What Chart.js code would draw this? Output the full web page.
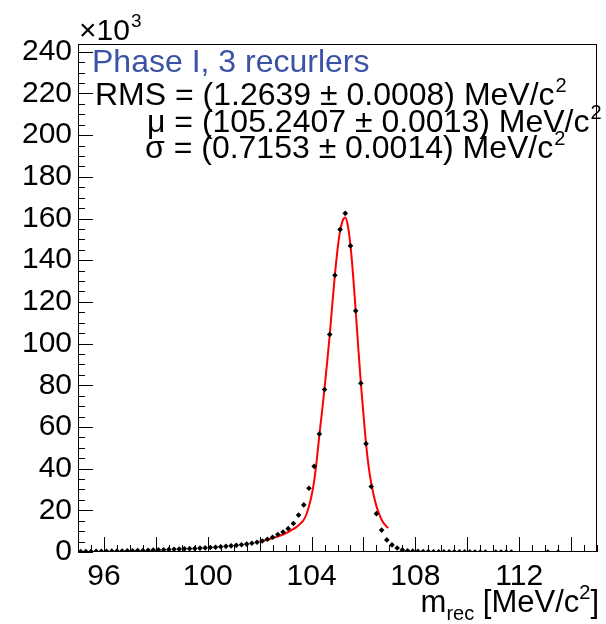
<!DOCTYPE html>
<html>
<head>
<meta charset="utf-8">
<script src="https://cdn.jsdelivr.net/npm/chart.js@4.4.0/dist/chart.umd.min.js"></script>
<style>
html,body{margin:0;padding:0;background:#fff;}
</style>
</head>
<body>
<canvas id="c" width="606" height="624"></canvas>
<script>
// histogram bins (bin centres, MeV/c^2) and counts (x10^3)
const binX = [95.1,95.3,95.5,95.7,95.9,96.1,96.3,96.5,96.7,96.9,97.1,97.3,97.5,97.7,97.9,
  98.1,98.3,98.5,98.7,98.9,99.1,99.3,99.5,99.7,99.9,100.1,100.3,100.5,100.7,100.9,
  101.1,101.3,101.5,101.7,101.9,102.1,102.3,102.5,102.7,102.9,103.1,103.3,103.5,103.7,103.9,
  104.1,104.3,104.5,104.7,104.9,105.1,105.3,105.5,105.7,105.9,106.1,106.3,106.5,106.7,106.9,
  107.1,107.3,107.5,107.7,107.9,108.1,108.3,108.5,108.7,108.9,109.1,109.3,109.5,109.7,109.9,
  110.1,110.3,110.5,110.7,110.9,111.1,111.3,111.5,111.7,113.1,113.5];
const counts = [0.2,0.2,0.25,0.3,0.3,0.35,0.4,0.45,0.5,0.55,0.6,0.7,0.75,0.85,0.9,
  1.0,1.1,1.2,1.3,1.4,1.5,1.6,1.7,1.85,2.0,2.15,2.3,2.5,2.7,2.95,
  3.2,3.5,3.8,4.2,4.7,5.3,6.1,7.1,8.4,9.6,11.2,13.7,17.7,22.6,30.6,
  41.1,56.6,78.0,104.4,132.8,154.8,162.5,146.9,115.7,81.0,52.0,31.4,18.4,10.5,5.8,
  3.4,1.9,1.0,0.6,0.4,0.3,0.25,0.2,0.15,0.12,0.1,0.08,0.07,0.06,0.05,
  0.04,0.03,0.03,0.02,null,0.02,0.02,0.01,0.01,0.01,0.01];

// fitted curve
const fitX = [102.0,102.2,102.4,102.6,102.8,103.0,103.2,103.4,103.6,103.7,103.8,103.9,104.0,104.1,
  104.2,104.3,104.4,104.5,104.6,104.7,104.8,104.9,105.0,105.1,105.2,105.3,105.4,105.5,105.6,
  105.7,105.8,105.9,106.0,106.1,106.2,106.3,106.4,106.5,106.6,106.7,106.8,106.95];
const fitY = [5.0,5.6,6.2,7.0,7.9,9.0,10.3,11.8,14.0,15.5,18.0,22.0,27.0,34.0,
  44.0,56.0,67.0,78.5,91.0,104.0,119.0,133.0,145.0,154.0,159.0,160.5,156.5,147.0,133.0,
  116.0,98.0,81.0,66.0,52.0,41.0,33.0,27.0,22.0,18.4,15.5,13.5,11.5];

const xLabels = [96, 100, 104, 108, 112];
const yLabels = [0, 20, 40, 60, 80, 100, 120, 140, 160, 180, 200, 220, 240];

const FONT = '"Liberation Sans", Arial, Helvetica, sans-serif';

function supText(ctx, main, sup, x, y, size) {
  ctx.font = size + 'px ' + FONT;
  ctx.fillText(main, x, y);
  const w = ctx.measureText(main).width;
  ctx.font = Math.round(size * 0.62) + 'px ' + FONT;
  ctx.fillText(sup, x + w + 1, y - size * 0.42);
}

const rootFrame = {
  id: 'rootFrame',
  afterDraw(chart) {
    const {ctx, chartArea: a, scales: {x, y}} = chart;
    ctx.save();
    ctx.strokeStyle = '#000';
    ctx.lineWidth = 1;
    ctx.strokeRect(a.left + 0.5, a.top + 0.5, a.right - a.left - 1, a.bottom - a.top - 1);
    ctx.beginPath();
    // x ticks inside, every 0.5, long ones every 2
    for (let k = 190; k <= 230; k++) {
      const px = Math.round(x.getPixelForValue(k / 2)) + 0.5;
      const len = k % 4 === 0 ? 15 : 7;
      ctx.moveTo(px, a.bottom);
      ctx.lineTo(px, a.bottom - len);
    }
    // y ticks inside, every 5, long every 20
    for (let v = 0; v <= 240; v += 5) {
      const py = Math.round(y.getPixelForValue(v)) + 0.5;
      const len = v % 20 === 0 ? 15 : 7;
      ctx.moveTo(a.left, py);
      ctx.lineTo(a.left + len, py);
    }
    ctx.stroke();

    ctx.fillStyle = '#000';
    ctx.textBaseline = 'alphabetic';
    ctx.textAlign = 'left';
    // x10^3
    supText(ctx, '\u00d710', '3', 79, 40, 30);

    // texts in the pad
    ctx.fillStyle = '#3b53a4';
    ctx.font = '32px ' + FONT;
    ctx.fillText('Phase I, 3 recurlers', 92, 72);
    ctx.fillStyle = '#000';
    supText(ctx, 'RMS = (1.2639 \u00b1 0.0008) MeV/c', '2', 95, 105, 32);
    supText(ctx, '\u03bc = (105.2407 \u00b1 0.0013) MeV/c', '2', 147, 132, 32);
    supText(ctx, '\u03c3 = (0.7153 \u00b1 0.0014) MeV/c', '2', 145, 158, 32);

    // x axis title, right aligned
    const size = 31;
    const parts = [['m', size, 0], ['rec', 20, 8], [' [MeV/c', size, 0], ['2', 20, -13], [']', size, 0]];
    let total = 0;
    parts.forEach(p => { ctx.font = p[1] + 'px ' + FONT; total += ctx.measureText(p[0]).width; });
    let cx = 599 - total;
    parts.forEach(p => {
      ctx.font = p[1] + 'px ' + FONT;
      ctx.fillText(p[0], cx, 612 + p[2]);
      cx += ctx.measureText(p[0]).width;
    });
    ctx.restore();
  }
};

const pts = binX.map((v, i) => ({x: v, y: counts[i]})).filter(p => p.y !== null);
const fit = fitX.map((v, i) => ({x: v, y: fitY[i]}));

new Chart(document.getElementById('c'), {
  type: 'scatter',
  data: {
    datasets: [
      {
        label: 'fit',
        data: fit,
        showLine: true,
        borderColor: '#ff0000',
        borderWidth: 2,
        pointRadius: 0,
        cubicInterpolationMode: 'monotone',
        order: 2
      },
      {
        label: 'data',
        data: pts,
        pointStyle: 'rectRot',
        pointRadius: 2.8,
        backgroundColor: '#000',
        borderColor: '#000',
        borderWidth: 0,
        order: 1
      }
    ]
  },
  options: {
    responsive: false,
    animation: false,
    layout: {padding: {top: 44, right: 9, bottom: 0, left: 0}},
    plugins: {legend: {display: false}, tooltip: {enabled: false}},
    scales: {
      x: {
        type: 'linear',
        min: 95, max: 115,
        grid: {display: false, drawTicks: false},
        border: {display: false},
        afterBuildTicks: s => { s.ticks = xLabels.map(v => ({value: v})); },
        afterFit: s => { s.height = 72; },
        ticks: {color: '#000', padding: 7, maxRotation: 0, autoSkip: false,
          font: {family: FONT, size: 30}}
      },
      y: {
        type: 'linear',
        min: 0, max: 243.75,
        grid: {display: false, drawTicks: false},
        border: {display: false},
        afterBuildTicks: s => { s.ticks = yLabels.map(v => ({value: v})); },
        afterFit: s => { s.width = 78; },
        ticks: {color: '#000', padding: 6, autoSkip: false,
          font: {family: FONT, size: 30}}
      }
    }
  },
  plugins: [rootFrame]
});
</script>
</body>
</html>
